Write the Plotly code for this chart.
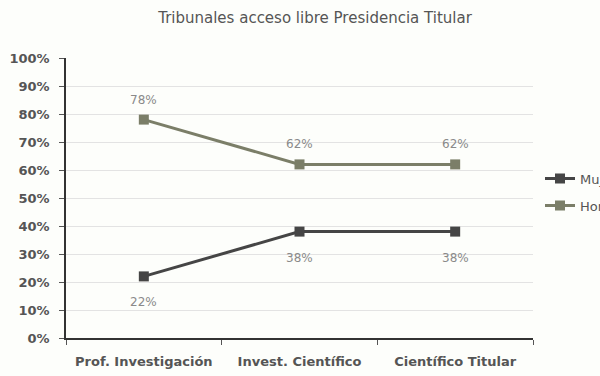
import plotly.graph_objects as go

categories = ["Prof. Investigación", "Invest. Científico", "Científico Titular"]
mujeres = [22, 38, 38]
hombres = [78, 62, 62]
series_names = ["Mujeres", "Hombres"]
title = "Tribunales acceso libre Presidencia Titular"

dark = "#454545"
olive = "#7b7e68"

fig = go.Figure()
fig.add_trace(go.Scatter(
    x=categories, y=mujeres, name=series_names[0], mode="lines+markers",
    legendgroup="m",
    line=dict(color=dark, width=3),
    marker=dict(symbol="square", size=10, color=dark),
))
fig.add_trace(go.Scatter(
    x=categories, y=hombres, name=series_names[1], mode="lines+markers",
    legendgroup="h",
    line=dict(color=olive, width=3),
    marker=dict(symbol="square", size=10, color=olive),
))

label_font = dict(family="DejaVu Sans", size=12, color="#8a8a8a")
for c, v in zip(categories, mujeres):
    fig.add_annotation(x=c, y=v, text=f"{v}%", showarrow=False,
                       yshift=-26, font=label_font)
for c, v in zip(categories, hombres):
    fig.add_annotation(x=c, y=v, text=f"{v}%", showarrow=False,
                       yshift=20, font=label_font)

fig.update_layout(
    template="none",
    width=600, height=376,
    margin=dict(l=66, r=67, t=58, b=38, autoexpand=False),
    paper_bgcolor="#fdfefb", plot_bgcolor="#fdfefb",
    title=dict(text=title, xref="container", x=0.525, xanchor="center",
               yref="container", y=0.952, yanchor="middle",
               font=dict(family="DejaVu Sans", size=15, color="#555555")),
    showlegend=True,
    legend=dict(xref="container", yref="container", x=0.9, y=0.489,
                xanchor="left", yanchor="middle",
                font=dict(family="DejaVu Sans", size=13, color="#555555"),
                bgcolor="rgba(0,0,0,0)", tracegroupgap=7, itemwidth=30),
    font=dict(family="DejaVu Sans"),
)
fig.update_xaxes(
    type="category", range=[-0.5, 2.5], tickson="boundaries",
    ticks="outside", ticklen=5,
    showline=True, linecolor="#333333", linewidth=1.5, showgrid=False,
    automargin=False, ticklabelstandoff=11,
    tickfont=dict(family="DejaVu Sans", size=13, color="#555555", weight="bold"),
    tickcolor="#555555",
)
fig.update_yaxes(
    range=[0, 100], dtick=10, ticksuffix="%", ticks="outside", ticklen=5,
    showline=True, linecolor="#333333", linewidth=1.5,
    showgrid=True, gridcolor="#e3e3e3", gridwidth=1, zeroline=False,
    automargin=False, ticklabelstandoff=7,
    tickfont=dict(family="DejaVu Sans", size=13, color="#555555", weight="bold"),
    tickcolor="#555555",
)

fig.write_html("out.html", config={"displayModeBar": False},
               post_script="document.body.style.margin='0px';")
